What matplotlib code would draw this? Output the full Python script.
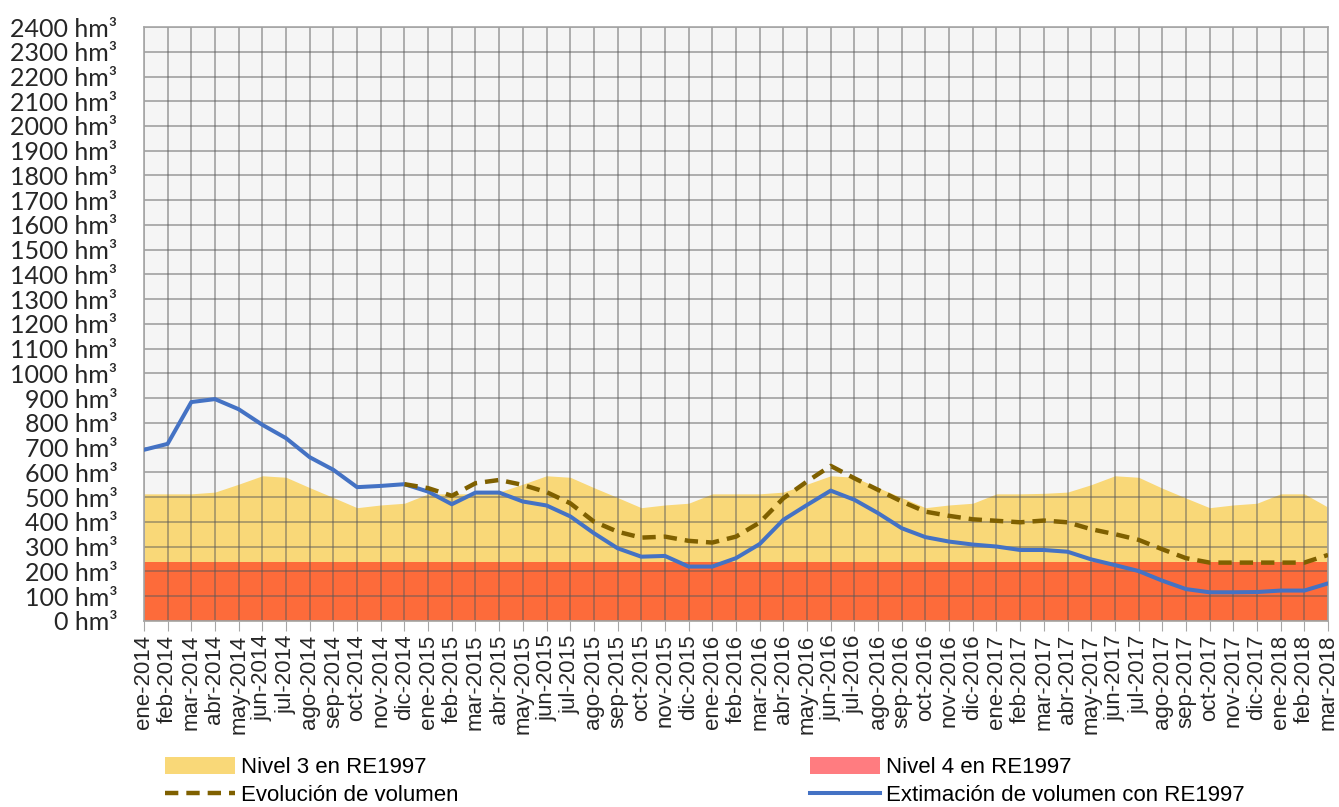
import numpy as np
import matplotlib
matplotlib.use("Agg")
import matplotlib.pyplot as plt
from matplotlib.patches import Patch
from matplotlib.lines import Line2D

# month labels, ene-2014 .. mar-2018
meses = ["ene", "feb", "mar", "abr", "may", "jun", "jul", "ago", "sep", "oct", "nov", "dic"]
labels = []
for year in range(2014, 2019):
    for m in meses:
        labels.append(f"{m}-{year}")
labels = labels[:51]

# Nivel 3 en RE1997 (hm3)
nivel3 = [513, 513, 513, 520, 552, 586, 580, 538, 498, 457, 468, 475,
          513, 513, 513, 520, 552, 586, 580, 538, 498, 457, 468, 475,
          513, 513, 513, 520, 552, 586, 580, 538, 498, 457, 468, 475,
          513, 513, 515, 520, 550, 586, 580, 536, 496, 457, 468, 475,
          513, 513, 459]

# Nivel 4 en RE1997 (constant)
nivel4 = [236] * 51

# Extimación de volumen con RE1997
estimacion = [691, 715, 884, 896, 855, 792, 738, 661, 610, 540, 545, 552,
              522, 471, 518, 518, 482, 466, 422, 354, 293, 259, 262, 219,
              219, 253, 310, 408, 468, 526, 489, 435, 374, 338, 320, 308,
              300, 286, 286, 279, 248, 225, 201, 162, 128, 115, 115, 116,
              122, 122, 151]

# Evolución de volumen (starts dic-2014)
evolucion = [None] * 11 + [552,
             536, 505, 556, 569, 549, 520, 475, 401, 360, 336, 340, 323,
             316, 340, 397, 495, 563, 626, 576, 529, 482, 441, 424, 410,
             404, 398, 405, 398, 370, 350, 327, 289, 253, 235, 235, 235,
             235, 235, 266]

x = np.arange(len(labels))
evo = np.array([np.nan if v is None else v for v in evolucion], dtype=float)

fig = plt.figure(figsize=(13.39, 8.07), dpi=100)
ax = fig.add_axes([0.1075, 0.2308, 0.8843, 0.7357])
ax.set_facecolor("#f5f5f5")

ax.fill_between(x, 0, nivel3, color="#f9d878", lw=0, zorder=0.5)
ax.fill_between(x, 0, nivel4, color="#fd6b3a", lw=0, zorder=0.6)

ax.plot(x, estimacion, color="#4472c4", lw=2.9, zorder=3, solid_capstyle="round")
ax.plot(x, evo, color="#7f6000", lw=3.2, dashes=(3, 1.8), zorder=3)

ax.set_xlim(0, 50)
ax.set_ylim(0, 2400)
ax.set_yticks(np.arange(0, 2401, 100))
ax.set_yticklabels([f"{v} hm³" for v in range(0, 2401, 100)],
                   fontsize=18, family=["Lato", "DejaVu Sans"], color="#262626")
ax.set_xticks(x)
ax.set_xticklabels(labels, rotation=90, fontsize=16, family="Liberation Sans", color="#262626")
ax.tick_params(axis="y", length=0, pad=19)
ax.tick_params(axis="x", length=7, color="#a6a6a6", pad=3)

ax.grid(True, color="#595959", alpha=0.5, lw=1.3, zorder=1)
for s in ax.spines.values():
    s.set_color("#a6a6a6")
    s.set_linewidth(1.2)

leg_kw = dict(loc="upper left", frameon=False, handlelength=3.15,
              handleheight=0.8, handletextpad=0.25, borderpad=0, labelspacing=0.3,
              prop={"family": "Liberation Sans", "size": 16})
fig.legend(handles=[Patch(facecolor="#f9d878", edgecolor="none"),
                    Line2D([], [], color="#7f6000", lw=3.2, dashes=(3, 1.8))],
           labels=["Nivel 3 en RE1997", "Evolución de volumen"],
           bbox_to_anchor=(154 / 1339, 1 - 746 / 807), **leg_kw)
fig.legend(handles=[Patch(facecolor="#ff7c80", edgecolor="none"),
                    Line2D([], [], color="#4472c4", lw=2.9)],
           labels=["Nivel 4 en RE1997", "Extimación de volumen con RE1997"],
           bbox_to_anchor=(799 / 1339, 1 - 746 / 807), **leg_kw)

fig.savefig("out.png", dpi=100)
